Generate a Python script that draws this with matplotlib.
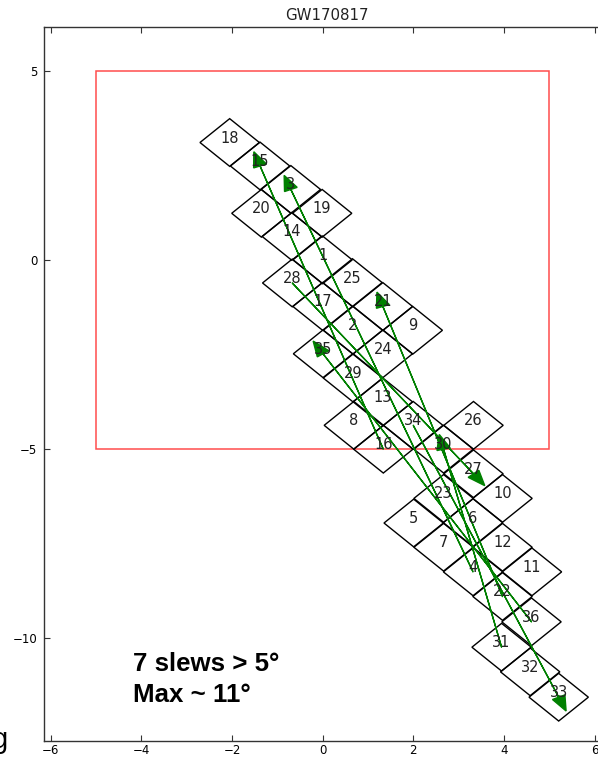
import matplotlib
matplotlib.use('Agg')
import matplotlib.pyplot as plt
from matplotlib.patches import Polygon, Rectangle

# tile ids and centres (deg)
tile_ids = list(range(1, 37))
tile_x = [0.00, 0.67, -0.70, 3.32, 2.01, 3.32, 2.67, 0.69, 1.99, 3.97,
          4.62, 3.97, 1.33, -0.68, -1.38, 1.34, 0.00, -2.05, -0.01, -1.35,
          1.33, 3.97, 2.67, 1.33, 0.66, 3.33, 3.33, -0.67, 0.67, 2.67,
          3.95, 4.58, 5.21, 2.00, 0.01, 4.61]
tile_y = [0.00, -1.86, 1.86, -8.24, -6.95, -6.94, -7.59, -4.37, -1.86, -6.30,
          -8.24, -7.59, -3.75, 0.62, 2.48, -5.00, -1.23, 3.10, 1.23, 1.23,
          -1.23, -8.89, -6.30, -2.48, -0.60, -4.37, -5.65, -0.61, -3.12, -5.00,
          -10.23, -10.88, -11.55, -4.37, -2.48, -9.56]

# slews larger than 5 deg (drawn from tile k+1 back to tile k)
slew_from = [4, 16, 22, 28, 31, 34, 36]
slew_to = [3, 15, 21, 27, 30, 33, 35]

# search box
box_x = [-5, 5]
box_y = [-5, 5]

HALF_W = 0.655
HALF_H = 0.63
GREEN = '#008000'
RED = '#ff4d4d'
INK = '#222222'

fig = plt.figure(figsize=(5.98, 7.57), dpi=100)
ax = fig.add_axes([0.0741, 0.0215, 0.9443, 0.9428])

ax.add_patch(Rectangle((box_x[0], box_y[0]), box_x[1] - box_x[0], box_y[1] - box_y[0],
                       fill=False, edgecolor=RED, linewidth=1.1, zorder=1))

for n, x, y in zip(tile_ids, tile_x, tile_y):
    corners = [(x, y + HALF_H), (x + HALF_W, y), (x, y - HALF_H), (x - HALF_W, y)]
    ax.add_patch(Polygon(corners, closed=True, fill=False, edgecolor='black',
                         linewidth=1.0, zorder=2))
    ax.text(x, y, str(n), color=INK, fontsize=10.5, ha='center', va='baseline', zorder=5)

for a, b in zip(slew_from, slew_to):
    x0, y0 = tile_x[a - 1], tile_y[a - 1]
    x1, y1 = tile_x[b - 1], tile_y[b - 1]
    ax.arrow(x0, y0, x1 - x0, y1 - y0, width=0.001, head_width=0.3, head_length=0.4,
             fc=GREEN, ec=GREEN, linewidth=1.0, zorder=4)

ax.text(-4.18, -10.86, '7 slews > 5°', fontsize=18.6, fontweight='bold',
        family='Liberation Sans', color='black', ha='left', va='baseline')
ax.text(-4.18, -11.69, 'Max ~ 11°', fontsize=18.6, fontweight='bold',
        family='Liberation Sans', color='black', ha='left', va='baseline')

ax.set_xlim(-6.14, 6.32)
ax.set_ylim(-12.70, 6.15)
ax.set_xticks([-6, -4, -2, 0, 2, 4, 6])
ax.set_yticks([-10, -5, 0, 5])
ax.tick_params(direction='in', top=True, right=True, length=4, width=0.8,
               labelsize=8.5, pad=5, colors='#333333', labelcolor='black')
ax.tick_params(axis='x', pad=2.5)
for s in ax.spines.values():
    s.set_color('#333333')
    s.set_linewidth(1.0)

ax.set_title('GW170817', fontsize=10.8, color=INK, pad=5)

# stray slide text cut off at the left edge
fig.text(0.0134, 0.012, 'g', fontsize=21, family='Liberation Sans', ha='right', va='baseline')

plt.savefig('out.png', dpi=100, facecolor='white')
print("Saved out.png")
